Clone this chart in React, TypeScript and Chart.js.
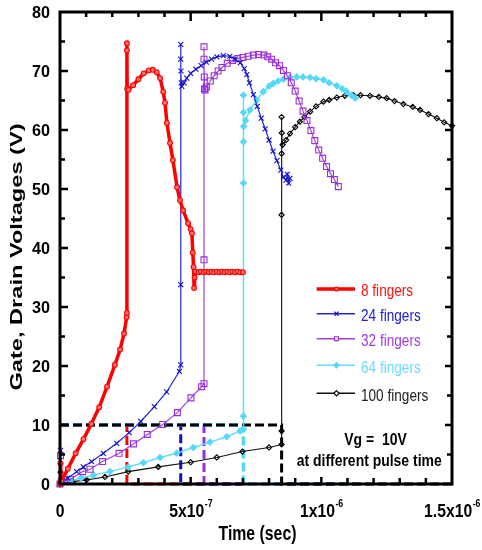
import React, { useEffect, useRef } from "react";
import { Chart, registerables } from "chart.js";

Chart.register(...registerables);

// Time in units of 1e-7 s, voltage in V
const fingers8: [number, number][] = [
  [0, 0], [0.02, 3.5], [0.05, 0.4], [0.3, 2.6], [0.6, 5.2], [0.9, 7.6], [1.2, 10.2], [1.5, 13.0],
  [1.8, 16.5], [2.1, 20.2], [2.3, 22.8], [2.45, 25.5], [2.55, 28.3], [2.56, 29.0], [2.56, 74.7],
  [2.56, 73.5], [2.57, 67.0], [2.62, 66.8], [2.8, 67.6], [3.0, 68.6], [3.2, 69.6], [3.4, 70.1],
  [3.55, 70.2], [3.7, 69.8], [3.83, 68.8], [3.95, 66.5], [4.02, 64.6], [4.09, 61.2], [4.21, 57.8],
  [4.32, 54.9], [4.48, 50.3], [4.59, 48.1], [4.71, 46.4], [4.9, 44.2], [5.0, 43.2], [5.05, 42.5],
  [5.08, 39.2], [5.11, 36.8], [5.13, 33.2], [5.15, 35.0], [5.18, 36.0], [5.3, 35.9], [5.4, 36.0],
  [5.5, 35.9], [5.6, 36.0], [5.7, 35.9], [5.8, 36.0], [5.9, 35.9], [6.0, 36.0], [6.1, 35.9],
  [6.2, 36.0], [6.3, 35.9], [6.4, 36.0], [6.5, 35.9], [6.6, 36.0], [6.7, 35.9], [6.8, 36.0],
  [6.9, 35.9], [7.0, 35.9],
];
const fingers24: [number, number][] = [
  [0, 0], [0.02, 5.7], [0.05, 0.5], [0.3, 1.0], [0.64, 2.1], [0.89, 2.9], [1.21, 3.8], [1.66, 5.2],
  [2.17, 6.9], [2.65, 8.7], [3.09, 10.6], [3.61, 13.1], [4.08, 15.6], [4.57, 19.1], [4.62, 20.2],
  [4.62, 33.8], [4.62, 74.5], [4.62, 72.0], [4.63, 70.0], [4.64, 68.0], [4.66, 67.4], [4.75, 68.0],
  [4.85, 68.8], [5.0, 69.6], [5.2, 70.3], [5.4, 70.9], [5.6, 71.5], [5.8, 72.0], [6.0, 72.4],
  [6.25, 72.6], [6.5, 72.5], [6.7, 72.0], [6.9, 71.4], [7.05, 70.4], [7.15, 69.4], [7.25, 68.0],
  [7.4, 66.0], [7.55, 64.0], [7.7, 62.0], [7.85, 60.2], [8.0, 58.3], [8.15, 56.4], [8.3, 54.8],
  [8.45, 53.2], [8.55, 52.0], [8.65, 51.5], [8.7, 52.5], [8.75, 51.0], [8.8, 51.8],
];
const fingers32: [number, number][] = [
  [0, 0], [0.02, 4.8], [0.05, 0.4], [0.4, 0.8], [0.87, 2.1], [1.15, 2.5], [1.63, 3.8], [2.26, 5.2],
  [2.81, 6.8], [3.34, 8.4], [3.93, 10.1], [4.49, 12.1], [5.01, 14.6], [5.42, 16.5], [5.51, 17.0],
  [5.51, 38.0], [5.51, 74.1], [5.51, 72.0], [5.52, 69.0], [5.53, 67.0], [5.55, 66.8], [5.6, 67.3],
  [5.75, 68.3], [5.9, 69.2], [6.05, 70.0], [6.2, 70.6], [6.4, 71.3], [6.6, 71.8], [6.8, 72.1],
  [7.0, 72.3], [7.2, 72.5], [7.4, 72.7], [7.6, 72.8], [7.8, 72.7], [7.95, 72.4], [8.1, 72.0],
  [8.25, 71.4], [8.4, 70.9], [8.55, 70.1], [8.7, 69.2], [8.85, 68.0], [9.0, 66.6], [9.15, 64.9],
  [9.3, 63.2], [9.45, 61.6], [9.6, 59.9], [9.75, 58.2], [9.9, 56.6], [10.05, 55.2], [10.2, 53.8],
  [10.35, 52.6], [10.5, 51.6], [10.65, 50.4],
];
const fingers64: [number, number][] = [
  [0, 0], [0.02, 3.5], [0.05, 0.3], [0.4, 0.5], [0.8, 1.0], [1.28, 1.5], [1.91, 2.1], [2.61, 2.9],
  [3.19, 3.6], [3.83, 4.5], [4.46, 5.2], [5.1, 6.2], [5.74, 7.1], [6.38, 8.0], [6.89, 9.0],
  [7.02, 9.3], [7.02, 11.5], [7.02, 51.0], [7.02, 58.0], [7.02, 65.9], [7.02, 63.0], [7.03, 60.6],
  [7.1, 61.6], [7.27, 63.4], [7.53, 65.1], [7.78, 66.5], [8.0, 67.4], [8.16, 67.9], [8.35, 68.3],
  [8.55, 68.6], [8.8, 68.9], [9.06, 69.0], [9.3, 69.0], [9.57, 68.9], [9.8, 68.7], [10.08, 68.5],
  [10.3, 68.0], [10.59, 67.5], [10.8, 67.0], [10.97, 66.5], [11.15, 65.9], [11.3, 65.4],
];
const fingers100: [number, number][] = [
  [0, 0], [0.02, 2.0], [0.05, 0.2], [0.5, 0.4], [1.02, 0.7], [1.72, 1.2], [2.61, 2.1], [3.76, 2.9],
  [5.0, 3.7], [6.0, 4.5], [6.98, 5.5], [8.0, 6.2], [8.48, 6.7], [8.48, 9.0], [8.48, 45.6],
  [8.48, 56.0], [8.48, 62.2], [8.49, 59.5], [8.52, 57.5], [8.65, 58.3], [8.8, 59.4], [9.0, 60.5],
  [9.18, 61.4], [9.35, 62.2], [9.57, 63.1], [9.8, 64.0], [10.08, 64.8], [10.3, 65.1], [10.59, 65.5],
  [10.9, 65.8], [11.22, 65.9], [11.5, 65.9], [11.86, 65.8], [12.2, 65.6], [12.5, 65.4], [12.8, 64.9],
  [13.14, 64.4], [13.5, 63.9], [13.78, 63.4], [14.1, 62.7], [14.42, 62.0], [14.7, 61.3], [15.0, 60.7],
];

const seriesLabels = ["8 fingers", "24 fingers", "32 fingers", "64 fingers", "100 fingers"];
const seriesData = [fingers8, fingers24, fingers32, fingers64, fingers100];
const pulseTimes = [2.56, 4.62, 5.51, 7.02, 8.48];
const gateEndTimes = [7.0, 8.8, 10.65, 11.3, 15.0];
const gateLevel = 10;

const yTickValues = [0, 10, 20, 30, 40, 50, 60, 70, 80];
const xTickValues = [0, 5, 10, 15];
const xTickBase = ["0", "5x10", "1x10", "1.5x10"];
const xTickExp = ["", "-7", "-6", "-6"];

const lineColors = ["#ff0000", "#2424dc", "#a040e0", "#66dcfa", "#111111"];
const markerColors = ["#ff0000", "#1010c8", "#9a2fd8", "#55d8f8", "#000000"];
const textColors = ["#ff1010", "#2020d8", "#a040dc", "#6adcff", "#222222"];
const pointStyles = ["circle", "crossRot", "rect", "rectRot", "rectRot"];
const lineWidths = [3.5, 1.2, 1.2, 1.5, 1.1];
const pointRadii = [2.4, 3.5, 4.2, 3, 2.6];
const pointFills = ["#ff7070", "#1010c8", "rgba(255,255,255,0)", "#55d8f8", "rgba(255,255,255,0)"];

const FONT = '"Liberation Sans", Arial, sans-serif';

function fontStr(size: number, bold: boolean) {
  return `${bold ? "bold " : ""}${size}px ${FONT}`;
}
function measure(ctx: CanvasRenderingContext2D, s: string, size: number, bold: boolean) {
  ctx.save();
  ctx.font = fontStr(size, bold);
  const w = ctx.measureText(s).width;
  ctx.restore();
  return w;
}
function drawText(
  ctx: CanvasRenderingContext2D, s: string, x: number, y: number, size: number, bold: boolean,
  color: string, align: CanvasTextAlign, sx: number, sy = 1, rot = 0
) {
  ctx.save();
  ctx.font = fontStr(size, bold);
  ctx.fillStyle = color;
  ctx.textAlign = align;
  ctx.textBaseline = "alphabetic";
  ctx.translate(x, y);
  if (rot) ctx.rotate(rot);
  ctx.scale(sx, sy);
  ctx.fillText(s, 0, 0);
  ctx.restore();
}

function drawMarker(ctx: CanvasRenderingContext2D, style: string, x: number, y: number, r: number, color: string, fill: string) {
  ctx.save();
  ctx.strokeStyle = color;
  ctx.fillStyle = fill;
  ctx.lineWidth = 1.2;
  ctx.beginPath();
  if (style === "circle") {
    ctx.arc(x, y, r, 0, Math.PI * 2);
    ctx.fill();
    ctx.stroke();
  } else if (style === "crossRot") {
    ctx.moveTo(x - r * 0.8, y - r * 0.8);
    ctx.lineTo(x + r * 0.8, y + r * 0.8);
    ctx.moveTo(x + r * 0.8, y - r * 0.8);
    ctx.lineTo(x - r * 0.8, y + r * 0.8);
    ctx.stroke();
  } else if (style === "rect") {
    ctx.rect(x - r * 0.75, y - r * 0.75, r * 1.5, r * 1.5);
    ctx.fill();
    ctx.stroke();
  } else {
    ctx.moveTo(x, y - r);
    ctx.lineTo(x + r, y);
    ctx.lineTo(x, y + r);
    ctx.lineTo(x - r, y);
    ctx.closePath();
    ctx.fill();
    ctx.stroke();
  }
  ctx.restore();
}

const overlay = {
  id: "overlay",
  afterDatasetsDraw(chart: any) {
    const ctx: CanvasRenderingContext2D = chart.ctx;
    const { left, right, top, bottom } = chart.chartArea;
    const xs = chart.scales.x;
    const ys = chart.scales.y;
    ctx.save();
    ctx.strokeStyle = "#000";
    ctx.lineWidth = 2.5;
    ctx.beginPath();
    for (let v = 5; v < 80; v += 5) {
      const y = ys.getPixelForValue(v);
      const major = v % 10 === 0;
      ctx.moveTo(left, y);
      ctx.lineTo(left + (major ? 8 : 5), y);
      ctx.moveTo(right, y);
      ctx.lineTo(right - (major ? 7 : 5), y);
    }
    for (let t = 1; t < 15; t += 1) {
      const x = xs.getPixelForValue(t);
      const major = t % 5 === 0;
      ctx.moveTo(x, top);
      ctx.lineTo(x, top + (major ? 9 : 5));
      ctx.moveTo(x, bottom);
      ctx.lineTo(x, bottom - (major ? 7 : 6));
    }
    ctx.stroke();
    ctx.lineWidth = 3;
    ctx.strokeRect(left, top, right - left, bottom - top);
    ctx.restore();
  },
  afterDraw(chart: any) {
    const ctx: CanvasRenderingContext2D = chart.ctx;
    const { left, top, bottom } = chart.chartArea;
    const xs = chart.scales.x;
    const ys = chart.scales.y;

    // y tick labels
    const ysx = 18 / measure(ctx, "80", 17, true);
    yTickValues.forEach((v) => {
      const y = ys.getPixelForValue(v);
      drawText(ctx, String(v), left - 10, y + 6.2, 17, true, "#000", "right", ysx);
    });

    // x tick labels with superscript exponent
    const xsx = 35 / measure(ctx, "5x10", 18, true);
    xTickValues.forEach((v, i) => {
      const x = xs.getPixelForValue(v);
      const w1 = measure(ctx, xTickBase[i], 18, true) * xsx;
      const w2 = xTickExp[i] ? measure(ctx, xTickExp[i], 10, true) * xsx : 0;
      const start = x - (w1 + w2) / 2;
      drawText(ctx, xTickBase[i], start, bottom + 32.5, 18, true, "#000", "left", xsx);
      if (xTickExp[i]) drawText(ctx, xTickExp[i], start + w1 + 0.5, bottom + 22.5, 10, true, "#000", "left", xsx);
    });

    // axis titles
    const tsx = 78 / measure(ctx, "Time (sec)", 20, true);
    drawText(ctx, "Time (sec)", 257.5, 539.5, 20, true, "#000", "center", tsx);
    const ytitle = "Gate, Drain Voltages (V)";
    const ylsx = 267 / measure(ctx, ytitle, 17, true);
    drawText(ctx, ytitle, 22, (top + bottom) / 2 + 9, 17, true, "#000", "center", ylsx, 1, -Math.PI / 2);

    // legend
    const rows = [290, 314.7, 339.7, 366.3, 394.3];
    const lsx = 59.7 / measure(ctx, "24 fingers", 17, false);
    seriesLabels.forEach((lab, i) => {
      const y = rows[i];
      ctx.save();
      ctx.strokeStyle = lineColors[i];
      ctx.lineWidth = i === 0 ? 3.5 : 1.5;
      ctx.beginPath();
      ctx.moveTo(316.7, y - 1);
      ctx.lineTo(355, y - 1);
      ctx.stroke();
      ctx.restore();
      drawMarker(ctx, pointStyles[i], 336.5, y - 1, i === 0 ? 2 : 2.6, markerColors[i], i === 2 || i === 4 ? "#fff" : pointFills[i]);
      drawText(ctx, lab, 361, y + 6.3, 17, false, textColors[i], "left", lsx);
    });

    // annotation
    const asx = 145 / measure(ctx, "at different pulse time", 16, true);
    drawText(ctx, "Vg =  10V", 375.5, 445, 16, true, "#000", "center", asx);
    drawText(ctx, "at different pulse time", 369.2, 466, 16, true, "#000", "center", asx);
  },
};

export default function App() {
  const ref = useRef<HTMLCanvasElement | null>(null);
  useEffect(() => {
    if (!ref.current) return;
    const curves = seriesData.map((pts, i) => ({
      label: seriesLabels[i],
      data: pts.map(([x, y]) => ({ x, y })),
      borderColor: lineColors[i],
      backgroundColor: pointFills[i],
      borderWidth: lineWidths[i],
      pointStyle: pointStyles[i],
      pointRadius: pointRadii[i],
      pointBorderWidth: 1.1,
      pointBorderColor: markerColors[i],
      pointBackgroundColor: pointFills[i],
      tension: 0,
      clip: 4,
    }));
    const gates = [4, 3, 2, 1, 0].map((i) => ({
      label: "gate " + seriesLabels[i],
      data: [
        { x: 0, y: gateLevel },
        { x: pulseTimes[i], y: gateLevel },
        { x: pulseTimes[i], y: 0 },
        { x: gateEndTimes[i], y: 0 },
      ],
      borderColor: i === 4 ? "#000" : markerColors[i],
      borderWidth: i === 3 ? 3.5 : 3,
      borderDash: [9, 4],
      pointRadius: 0,
      tension: 0,
      clip: 4,
    }));
    const chart = new Chart(ref.current, {
      type: "line",
      data: { datasets: [...curves, ...gates] as any },
      options: {
        animation: false,
        responsive: false,
        maintainAspectRatio: false,
        devicePixelRatio: 1,
        events: [],
        layout: { padding: { left: 60, right: 30, top: 12, bottom: 66 } },
        scales: {
          x: { type: "linear", min: 0, max: 15, display: false },
          y: { type: "linear", min: 0, max: 80, display: false },
        },
        plugins: { legend: { display: false }, tooltip: { enabled: false } },
      },
      plugins: [overlay],
    });
    return () => chart.destroy();
  }, []);
  return (
    <div style={{ position: "fixed", left: 0, top: 0, width: 482, height: 550, background: "#fff" }}>
      <canvas ref={ref} width={482} height={550} style={{ display: "block", width: 482, height: 550 }} />
    </div>
  );
}
